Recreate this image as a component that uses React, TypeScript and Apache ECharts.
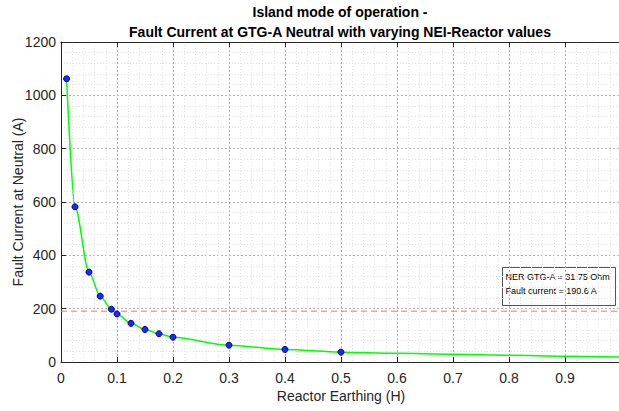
import React, { useEffect, useRef } from "react";
import * as echarts from "echarts";

const reactorH = [0.01, 0.025, 0.05, 0.07, 0.09, 0.1, 0.125, 0.15, 0.175, 0.2, 0.3, 0.4, 0.5];
const faultA = [1062, 582, 337, 247, 198, 180, 145, 122, 106, 93, 63, 47, 37];
const tailH = [0.6, 0.7, 0.8, 0.9, 1.0];
const tailA = [32.5, 29, 25.5, 22, 19];
const nerLimit = 190.6;
const limitSpan = [0, 1];
const xTicks = [0, 0.1, 0.2, 0.3, 0.4, 0.5, 0.6, 0.7, 0.8, 0.9];
const titleLines = ["Island mode of operation -", "Fault Current at GTG-A Neutral with varying NEI-Reactor values"];
const noteLines = ["NER GTG-A = 31.75 Ohm", "Fault current = 190.6 A"];

const FONT = "'Liberation Sans', Arial, sans-serif";
const TXT = "#262626";

export default function App() {
  const ref = useRef<HTMLDivElement>(null);
  useEffect(() => {
    if (!ref.current) return;
    const chart = echarts.init(ref.current, undefined, { renderer: "svg" });
    const data: any[] = reactorH.map((x, i) => [x, faultA[i]]);
    tailH.forEach((x, i) => data.push({ value: [x, tailA[i]], symbol: "none" }));
    chart.setOption({
      animation: false,
      backgroundColor: "#ffffff",
      textStyle: { fontFamily: FONT },
      title: {
        text: titleLines.join("\n"),
        left: 340,
        top: 2,
        padding: 0,
        textAlign: "center",
        textStyle: { fontFamily: FONT, fontSize: 14, fontWeight: "bold", color: "#000", lineHeight: 20 },
      },
      grid: { left: 61, right: -2, top: 42, bottom: 49, containLabel: false, outerBoundsMode: "none" },
      xAxis: [
        {
          type: "value",
          min: 0,
          max: 1,
          interval: 0.1,
          name: "Reactor Earthing (H)",
          nameLocation: "middle",
          nameGap: 27,
          nameMoveOverlap: false,
          nameTextStyle: { fontFamily: FONT, fontSize: 14, color: TXT },
          axisLine: { show: true, lineStyle: { color: TXT, width: 1 } },
          axisTick: { show: true, inside: true, length: 5, lineStyle: { color: TXT } },
          axisLabel: {
            fontFamily: FONT,
            fontSize: 14,
            color: TXT,
            margin: 9,
            formatter: (v: number) => {
              const t = xTicks.find((k) => Math.abs(k - v) < 1e-6);
              return t === undefined ? "" : String(t);
            },
          },
          splitLine: { show: true, lineStyle: { color: "#b4b4b4", type: [2, 2], width: 1 } },
          minorTick: { show: false, splitNumber: 5 },
          minorSplitLine: { show: true, lineStyle: { color: "#e2e2e2", type: [1, 2], width: 1 } },
        },
        {
          type: "value",
          position: "top",
          min: 0,
          max: 1,
          interval: 0.1,
          axisLine: { show: true, lineStyle: { color: TXT, width: 1 } },
          axisTick: { show: true, inside: true, length: 5, lineStyle: { color: TXT } },
          axisLabel: { show: false },
          splitLine: { show: false },
        },
      ],
      yAxis: {
        type: "value",
        min: 0,
        max: 1200,
        interval: 200,
        name: "Fault Current at Neutral (A)",
        nameLocation: "middle",
        nameGap: 36,
        nameMoveOverlap: false,
        nameTextStyle: { fontFamily: FONT, fontSize: 14, color: TXT },
        axisLine: { show: true, lineStyle: { color: TXT, width: 1 } },
        axisTick: { show: true, inside: true, length: 5, lineStyle: { color: TXT } },
        axisLabel: { fontFamily: FONT, fontSize: 14, color: TXT, margin: 5, formatter: (v: number) => String(v) },
        splitLine: { show: true, lineStyle: { color: "#b4b4b4", type: [2, 2], width: 1 } },
        minorTick: { show: false, splitNumber: 5 },
        minorSplitLine: { show: true, lineStyle: { color: "#e2e2e2", type: [1, 2], width: 1 } },
      },
      series: [
        {
          type: "line",
          xAxisIndex: 0,
          data: limitSpan.map((x) => [x, nerLimit]),
          symbol: "none",
          silent: true,
          lineStyle: { color: "#ff6b6b", type: [6, 4], width: 1 },
          z: 2,
        },
        {
          type: "line",
          xAxisIndex: 0,
          data,
          smooth: 0.3,
          smoothMonotone: "x",
          symbol: "circle",
          symbolSize: 6,
          showSymbol: true,
          lineStyle: { color: "#00ff00", width: 1.5 },
          itemStyle: { color: "#1a2aff", borderColor: "#00008b", borderWidth: 1 },
          z: 3,
        },
      ],
      graphic: [
        {
          type: "group",
          left: 502,
          top: 267,
          children: [
            {
              type: "rect",
              shape: { x: 0, y: 0, width: 113, height: 38 },
              style: { fill: "#ffffff", stroke: "#555555", lineWidth: 1 },
            },
            {
              type: "text",
              x: 3,
              y: 5,
              style: { text: noteLines[0], fontFamily: FONT, fontSize: 9, fill: "#000" },
            },
            {
              type: "text",
              x: 3,
              y: 19,
              style: { text: noteLines[1], fontFamily: FONT, fontSize: 9, fill: "#000" },
            },
          ],
        },
      ],
    });
    return () => chart.dispose();
  }, []);
  return <div ref={ref} style={{ width: 619, height: 411, position: "absolute", left: 0, top: 0 }} />;
}
